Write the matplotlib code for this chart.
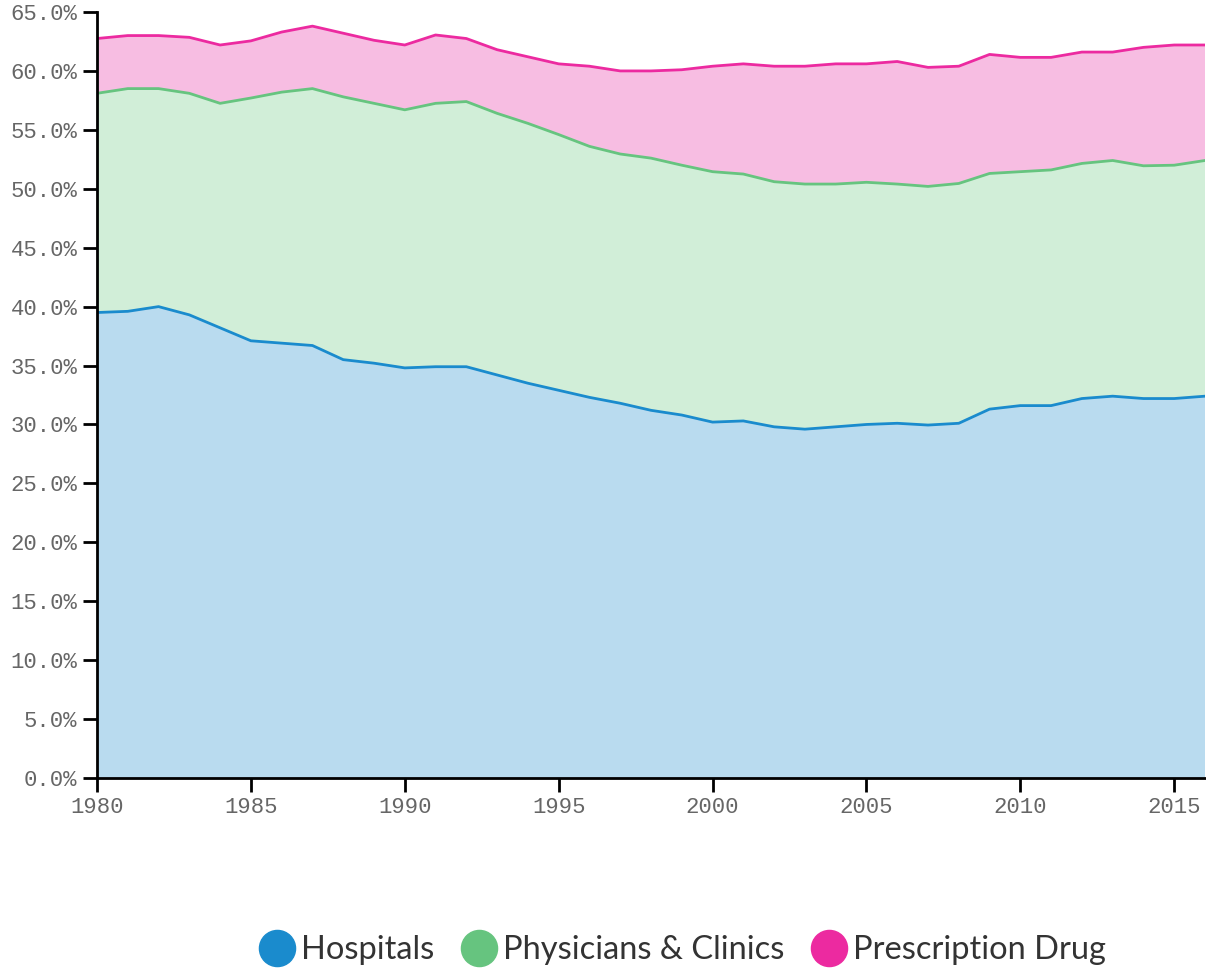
import numpy as np
import matplotlib
matplotlib.use("Agg")
import matplotlib.pyplot as plt
from matplotlib.lines import Line2D

years = list(range(1980, 2017))

# share of spending, percent
hospitals = [39.5, 39.6, 40.0, 39.3, 38.2, 37.1, 36.9, 36.7, 35.5, 35.2,
             34.8, 34.9, 34.9, 34.2, 33.5, 32.9, 32.3, 31.8, 31.2, 30.8,
             30.2, 30.3, 29.8, 29.6, 29.8, 30.0, 30.1, 29.95, 30.1, 31.3,
             31.6, 31.6, 32.2, 32.4, 32.2, 32.2, 32.4]
physicians = [18.6, 18.9, 18.5, 18.8, 19.05, 20.6, 21.3, 21.8, 22.3, 22.05,
              21.9, 22.35, 22.5, 22.2, 22.05, 21.7, 21.3, 21.15, 21.4, 21.2,
              21.25, 20.95, 20.8, 20.8, 20.6, 20.55, 20.3, 20.25, 20.35, 20.0,
              19.85, 20.0, 19.95, 20.0, 19.75, 19.8, 20.0]
drugs = [4.65, 4.5, 4.5, 4.75, 4.95, 4.85, 5.1, 5.3, 5.4, 5.35,
         5.5, 5.8, 5.35, 5.4, 5.65, 6.0, 6.8, 7.05, 7.4, 8.1,
         8.95, 9.35, 9.8, 10.0, 10.2, 10.05, 10.4, 10.1, 9.95, 10.1,
         9.7, 9.55, 9.45, 9.2, 10.05, 10.2, 9.8]

names = ["Hospitals", "Physicians & Clinics", "Prescription Drug"]
line_cols = ["#1a8bcd", "#66c47f", "#ec2aa0"]
fill_cols = ["#b9dbef", "#d1eed8", "#f7bde2"]

fig = plt.figure(figsize=(12.06, 9.73), dpi=100)
ax = fig.add_axes([97 / 1206, 1 - 778 / 973, 1108 / 1206, 766 / 973])

ax.stackplot(years, hospitals, physicians, drugs, colors=fill_cols, linewidth=0)
cum = np.cumsum(np.array([hospitals, physicians, drugs]), axis=0)
for i in range(3):
    ax.plot(years, cum[i], color=line_cols[i], lw=2)

ax.set_xlim(1980, 2016)
ax.set_ylim(0, 65)
ax.set_yticks(np.arange(0, 66, 5))
ax.set_yticklabels(["%.1f%%" % v for v in np.arange(0, 66, 5)])
ax.set_xticks(range(1980, 2016, 5))

for s in ["top", "right"]:
    ax.spines[s].set_visible(False)
for s in ["left", "bottom"]:
    ax.spines[s].set_linewidth(2)
    ax.spines[s].set_color("black")
ax.tick_params(direction="out", length=10, width=2, color="black",
               labelsize=16, labelcolor="#666666", pad=4)
for lab in ax.get_xticklabels() + ax.get_yticklabels():
    lab.set_family("Liberation Mono")

handles = [Line2D([], [], marker="o", ls="", markersize=26,
                  markerfacecolor=c, markeredgecolor=c) for c in line_cols]
fig.legend(handles, names, loc="center", bbox_to_anchor=(0.566, 1 - 950 / 973),
           ncol=3, frameon=False, handlelength=1.1, handletextpad=0.2,
           columnspacing=0.8, prop={"family": "Lato", "size": 23.5},
           labelcolor="#333333")

fig.savefig("out.png", dpi=100)
